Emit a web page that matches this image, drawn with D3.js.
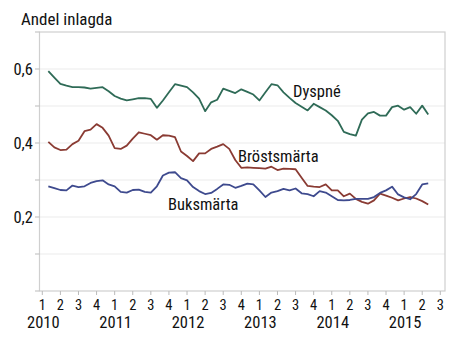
<!DOCTYPE html>
<html><head><meta charset="utf-8">
<script src="https://cdn.jsdelivr.net/npm/d3@7"></script>
<style>
body{margin:0;background:#fff;}
text{font-family:"Liberation Sans Narrow","Arial Narrow","Roboto Condensed",sans-serif;fill:#111;}
</style></head>
<body><svg id="c" width="450" height="359"></svg>
<script>
const quarterLabels = ["1","2","3","4","1","2","3","4","1","2","3","4","1","2","3","4","1","2","3","4","1","2","3"];
const yearLabels = ["2010","2011","2012","2013","2014","2015"];
const yTickValues = [0.2,0.4,0.6];
const seriesNames = ["Dyspné","Bröstsmärta","Buksmärta"];
const dyspne = [0.594,0.577,0.560,0.555,0.551,0.551,0.550,0.547,0.549,0.551,0.540,0.527,0.520,0.515,0.518,0.521,0.521,0.519,0.495,0.515,0.537,0.559,0.555,0.551,0.537,0.520,0.486,0.510,0.517,0.547,0.541,0.535,0.545,0.538,0.531,0.515,0.537,0.559,0.556,0.537,0.522,0.508,0.498,0.488,0.506,0.497,0.488,0.475,0.460,0.430,0.424,0.420,0.463,0.480,0.484,0.474,0.474,0.497,0.501,0.490,0.497,0.479,0.501,0.477];
const brostsmarta = [0.403,0.388,0.381,0.382,0.397,0.406,0.432,0.436,0.451,0.441,0.420,0.386,0.384,0.393,0.412,0.429,0.425,0.421,0.409,0.421,0.420,0.416,0.377,0.365,0.351,0.372,0.372,0.384,0.390,0.397,0.384,0.354,0.333,0.334,0.333,0.332,0.331,0.336,0.327,0.331,0.330,0.329,0.306,0.284,0.282,0.281,0.288,0.272,0.272,0.256,0.263,0.249,0.241,0.236,0.245,0.263,0.258,0.252,0.245,0.250,0.254,0.250,0.243,0.234];
const buksmarta = [0.283,0.278,0.273,0.272,0.285,0.281,0.283,0.292,0.297,0.299,0.288,0.283,0.268,0.266,0.273,0.274,0.268,0.266,0.283,0.312,0.320,0.321,0.305,0.299,0.281,0.270,0.262,0.265,0.276,0.288,0.287,0.279,0.284,0.290,0.288,0.272,0.254,0.266,0.270,0.276,0.272,0.277,0.264,0.262,0.256,0.270,0.266,0.256,0.246,0.245,0.246,0.249,0.249,0.249,0.254,0.265,0.272,0.282,0.261,0.253,0.248,0.262,0.288,0.291];
const colors = ["#2f6b57","#8a3b33","#3e4a8e"];

const svg = d3.select("#c");
const L = 39.5, R = 445, T = 32, B = 291;
const x = d3.scaleLinear().domain([0,66]).range([42.3,440.3]);
const y = d3.scaleLinear().domain([0,0.7]).range([B,T]);

// gridlines
svg.append("g").selectAll("line").data(d3.range(1,7).map(i=>i/10)).join("line")
  .attr("x1",L).attr("x2",R).attr("y1",d=>y(d)).attr("y2",d=>y(d))
  .attr("stroke","#ececec").attr("stroke-width",1.2);
// frame
svg.append("rect").attr("x",L).attr("y",T).attr("width",R-L).attr("height",B-T)
  .attr("fill","none").attr("stroke","#cfcfcf").attr("stroke-width",1.2);
// y ticks
svg.append("g").selectAll("line").data(d3.range(0,8).map(i=>i/10)).join("line")
  .attr("x1",35).attr("x2",L).attr("y1",d=>y(d)).attr("y2",d=>y(d))
  .attr("stroke","#bbb");
svg.append("g").selectAll("text").data(yTickValues).join("text")
  .attr("x",33).attr("y",d=>y(d)+5.5).attr("text-anchor","end")
  .attr("font-size",16.5).text(d=>d3.format(".1f")(d).replace(".",","));
// x ticks
svg.append("g").selectAll("line").data(quarterLabels).join("line")
  .attr("x1",(d,i)=>x(i*3)).attr("x2",(d,i)=>x(i*3)).attr("y1",B).attr("y2",B+4)
  .attr("stroke","#bbb");
svg.append("g").selectAll("text").data(quarterLabels).join("text")
  .attr("x",(d,i)=>x(i*3)).attr("y",310).attr("text-anchor","middle")
  .attr("font-size",14.5).text(d=>d);
svg.append("g").selectAll("text").data(yearLabels).join("text")
  .attr("x",(d,i)=>x(i*12)+1).attr("y",328).attr("text-anchor","middle")
  .attr("font-size",16.5).text(d=>d);
// title
svg.append("text").attr("x",21).attr("y",24.5).attr("font-size",17).text("Andel inlagda");

// lines
const line = d3.line().x((d,i)=>x(i+1)).y(d=>y(d));
[dyspne,brostsmarta,buksmarta].forEach((s,k)=>{
  svg.append("path").datum(s).attr("d",line).attr("fill","none")
    .attr("stroke",colors[k]).attr("stroke-width",1.8).attr("stroke-linejoin","round");
});
// labels
const labelPos = [[293,97],[238,161.5],[168,210]];
svg.append("g").selectAll("text").data(seriesNames).join("text")
  .attr("x",(d,i)=>labelPos[i][0]).attr("y",(d,i)=>labelPos[i][1])
  .attr("font-size",16.5).text(d=>d);
</script></body></html>
